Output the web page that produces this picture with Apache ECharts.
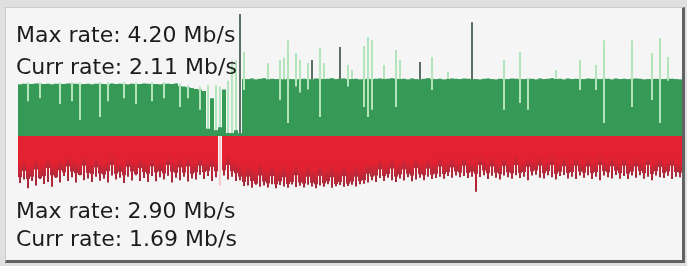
<!DOCTYPE html>
<html>
<head>
<meta charset="utf-8">
<script src="https://cdn.jsdelivr.net/npm/echarts@6/dist/echarts.min.js"></script>
<style>
    html, body { margin: 0; padding: 0; background: #e0e0e0; }
    .frame {
        position: absolute; left: 5px; top: 7px; width: 676px; height: 252px;
        background: #f4f5f4;
        border-top: 1px solid #cbcbcb; border-left: 1px solid #cbcbcb;
        border-right: 3px solid #626262; border-bottom: 3px solid #626262;
    }
    #traffic { position: absolute; left: 0; top: 0; width: 687px; height: 266px; }
</style>
</head>
<body>
<div class="frame"></div>
<div id="traffic"></div>
<script>
// upload rate per sample (Mb/s)
var upRate = [
    1.78,1.80,1.79,1.79,1.81,1.80,1.79,1.80,1.78,1.80,
    1.79,1.79,1.81,1.80,1.80,1.78,1.79,1.80,1.78,1.80,
    1.80,1.79,1.78,1.81,1.79,1.80,1.79,1.78,1.80,1.79,
    1.79,1.81,1.80,1.79,1.79,1.78,1.80,1.80,1.79,1.81,
    1.72,1.70,1.68,1.65,1.62,1.60,1.55,0.25,1.30,0.20,
    0.30,1.60,0.10,0.10,0.20,0.10,1.96,1.96,1.98,1.95,
    1.97,1.99,1.95,1.97,1.96,1.96,1.95,1.97,1.96,1.95,
    1.96,1.97,1.96,1.95,1.98,1.97,1.96,1.97,1.99,1.96,
    1.97,1.98,1.96,1.96,1.97,1.95,1.96,1.97,1.96,1.97,
    1.98,1.96,1.97,1.99,1.97,1.96,1.97,1.95,1.98,1.96,
    1.95,1.97,1.99,1.97,1.96,1.97,1.95,1.96,1.98,1.97,
    1.96,1.98,1.97,1.96,1.96,1.95,1.97,1.98,1.96,1.95,
    1.97,1.96,1.96,1.98,1.97,1.96,1.96,1.97,1.97,1.95,
    1.98,1.96,1.97,1.99,1.96,1.97,1.95,1.98,1.96,1.97,
    1.96,1.96,1.98,1.97,1.97,1.96,1.97,1.97,1.95,1.98,
    1.96,1.97,1.96,1.97,1.98,1.97,1.95,1.96,1.96,1.97,
    1.96,1.96,1.97,1.97,1.96,1.95
];
// bursts inside a sample: [sample, low, high] (Mb/s)
var upPeak = [
    [2,1.20,1.85],[5,1.30,1.85],[10,1.10,1.85],[13,1.20,1.85],[15,0.55,1.85],
    [20,0.65,1.85],[22,1.20,1.85],[26,1.30,1.85],[29,1.10,1.85],[33,1.20,1.85],
    [36,1.30,1.85],[40,1.00,1.80],[42,1.30,1.75],[45,0.90,1.70],
    [47,0.25,1.75],[49,0.20,1.75],[50,0.30,1.70],[52,0.10,1.90],[53,0.10,2.60],[54,0.20,2.60],
    [56,1.58,2.89],[62,1.95,2.51],[65,1.24,2.62],[66,1.95,2.69],[67,0.45,3.30],
    [69,1.70,2.86],[70,1.50,2.62],[72,1.60,2.51],[75,0.65,3.03],[76,1.96,2.51],
    [82,1.70,2.44],[83,1.96,2.27],[86,1.00,3.10],[87,0.65,3.41],[88,0.90,3.30],
    [91,1.96,2.44],[94,1.00,2.96],[95,1.96,2.62],[103,1.58,2.72],[107,1.96,2.20],
    [121,0.90,2.62],[125,1.14,2.89],[127,0.90,2.00],[134,1.96,2.27],[140,1.58,2.62],
    [144,1.58,2.44],[146,0.45,3.30],[153,1.00,3.30],[158,1.24,2.86],[160,0.45,3.37],
    [162,1.90,2.72]
];
var upSpike = [[55,0.10,4.20],[73,1.96,2.62],[80,1.96,3.06],[100,1.95,2.55],[113,1.96,3.92]];

// download rate per sample (Mb/s)
var downRate = [
    1.42,1.20,1.48,1.40,1.15,1.45,1.38,1.10,1.35,1.41,1.18,
    1.25,1.05,1.22,1.28,1.34,1.02,1.27,1.31,1.08,1.29,
    1.33,1.21,1.00,1.30,1.23,1.35,1.06,1.22,1.31,1.10,
    1.24,1.30,1.04,1.25,1.21,1.29,1.00,1.23,1.27,1.08,
    1.26,1.05,1.30,1.25,1.02,1.24,1.20,1.06,1.22,0.00,
    1.18,1.00,1.21,1.28,1.40,1.58,1.40,1.55,1.64,1.36,
    1.57,1.63,1.38,1.66,1.56,1.42,1.65,1.58,1.35,1.60,
    1.64,1.40,1.61,1.66,1.37,1.63,1.56,1.42,1.65,1.58,
    1.38,1.64,1.57,1.40,1.55,1.52,1.30,1.40,1.36,1.15,
    1.38,1.31,1.12,1.40,1.32,1.15,1.30,1.36,1.10,1.31,
    1.35,1.12,1.33,1.30,1.05,1.31,1.24,1.08,1.22,1.26,
    1.02,1.27,1.23,1.30,1.00,1.19,1.28,1.05,1.26,1.31,
    1.03,1.25,1.29,1.00,1.27,1.24,1.06,1.22,1.18,1.02,
    1.28,1.21,1.00,1.30,1.23,1.04,1.27,1.24,1.02,1.22,
    1.26,1.05,1.28,1.24,1.00,1.21,1.25,1.04,1.19,1.28,
    1.02,1.29,1.22,1.05,1.20,1.28,1.00,1.31,1.21,1.06,
    1.27,1.22,1.02,1.24,1.26
];
// deepest burst inside each sample (Mb/s)
var downTip = [
    1.62,1.50,1.80,1.55,1.70,1.48,1.65,1.58,1.75,1.45,1.60,
    1.38,1.55,1.42,1.60,1.35,1.52,1.46,1.58,1.40,1.54,
    1.47,1.60,1.36,1.50,1.44,1.62,1.40,1.53,1.35,1.55,
    1.45,1.58,1.38,1.56,1.42,1.50,1.37,1.60,1.44,1.52,
    1.40,1.57,1.46,1.50,1.33,1.48,1.38,1.55,1.42,0.00,
    1.36,1.50,1.40,1.55,1.52,1.72,1.70,1.78,1.68,1.75,
    1.70,1.77,1.66,1.80,1.69,1.74,1.78,1.67,1.76,1.71,
    1.77,1.68,1.74,1.80,1.70,1.75,1.66,1.78,1.73,1.69,
    1.75,1.72,1.68,1.74,1.66,1.64,1.60,1.52,1.58,1.45,
    1.55,1.44,1.52,1.58,1.46,1.53,1.42,1.56,1.50,1.44,
    1.52,1.40,1.48,1.45,1.40,1.47,1.38,1.44,1.36,1.42,
    1.38,1.45,1.40,1.92,1.41,1.35,1.48,1.37,1.44,1.50,
    1.36,1.42,1.47,1.35,1.45,1.40,1.52,1.36,1.33,1.44,
    1.46,1.35,1.42,1.50,1.38,1.34,1.46,1.40,1.48,1.36,
    1.44,1.35,1.48,1.40,1.52,1.36,1.42,1.46,1.34,1.47,
    1.38,1.48,1.36,1.44,1.35,1.47,1.40,1.52,1.36,1.42,
    1.45,1.37,1.48,1.40,1.42
];
var downGap = [[50,1.70]];

var upText = ['Max rate: 4.20 Mb/s', 'Curr rate: 2.11 Mb/s'];
var downText = ['Max rate: 2.90 Mb/s', 'Curr rate: 1.69 Mb/s'];

var samples = [];
for (var i = 0; i < upRate.length; i++) { samples.push(i); }

function neg(list) {
    return list.map(function (v) { return -v; });
}
function pick(list, k, sign) {
    return list.map(function (p) { return [p[0], sign * p[k]]; });
}
function fade(top, mid, at, bottom) {
    return {
        type: 'linear', x: 0, y: 0, x2: 0, y2: 1,
        colorStops: [
            { offset: 0, color: top },
            { offset: at, color: mid },
            { offset: 1, color: bottom }
        ]
    };
}
// axis 0: whole sample (4px), axis 1: burst inside the sample (2px)
function barSeries(name, axis, data, color) {
    var s = {
        name: name, type: 'bar', data: data, xAxisIndex: axis,
        barGap: '-100%', barCategoryGap: '0%',
        itemStyle: { color: color },
        silent: true
    };
    if (axis == 1) { s.barWidth = 2; }
    return s;
}

var chart = echarts.init(document.getElementById('traffic'));
var font = '22px "DejaVu Sans", sans-serif';
var option = {
    animation: false,
    grid: { left: 18, right: 5, top: 14, bottom: 8 },
    xAxis: [
        { type: 'category', data: samples, show: false },
        { type: 'category', data: samples, show: false }
    ],
    yAxis: { type: 'value', min: -4.2, max: 4.2, show: false },
    series: [
        barSeries('up', 0, upRate, '#379956'),
        barSeries('upPeak', 1, pick(upPeak, 2, 1), '#b4e4bc'),
        barSeries('upSpike', 1, pick(upSpike, 2, 1), '#5b7062'),
        barSeries('upLow', 1, pick(upPeak.concat(upSpike), 1, 1), '#379956'),
        barSeries('downTip', 1, neg(downTip), fade('#d82131', '#c82233', 0.7, '#a02c3c')),
        barSeries('downGap', 1, pick(downGap, 1, -1), '#f6c8cd'),
        barSeries('down', 0, neg(downRate), fade('#e52232', '#e22131', 0.7, '#b02a3a'))
    ],
    graphic: [
        { type: 'text', left: 16, top: 25, z: 10, style: { text: upText[0], font: font, fill: '#1c1c1c' } },
        { type: 'text', left: 16, top: 57, z: 10, style: { text: upText[1], font: font, fill: '#1c1c1c' } },
        { type: 'text', left: 16, top: 201, z: 10, style: { text: downText[0], font: font, fill: '#1c1c1c' } },
        { type: 'text', left: 16, top: 229, z: 10, style: { text: downText[1], font: font, fill: '#1c1c1c' } }
    ]
};
chart.setOption(option);
</script>
</body>
</html>
